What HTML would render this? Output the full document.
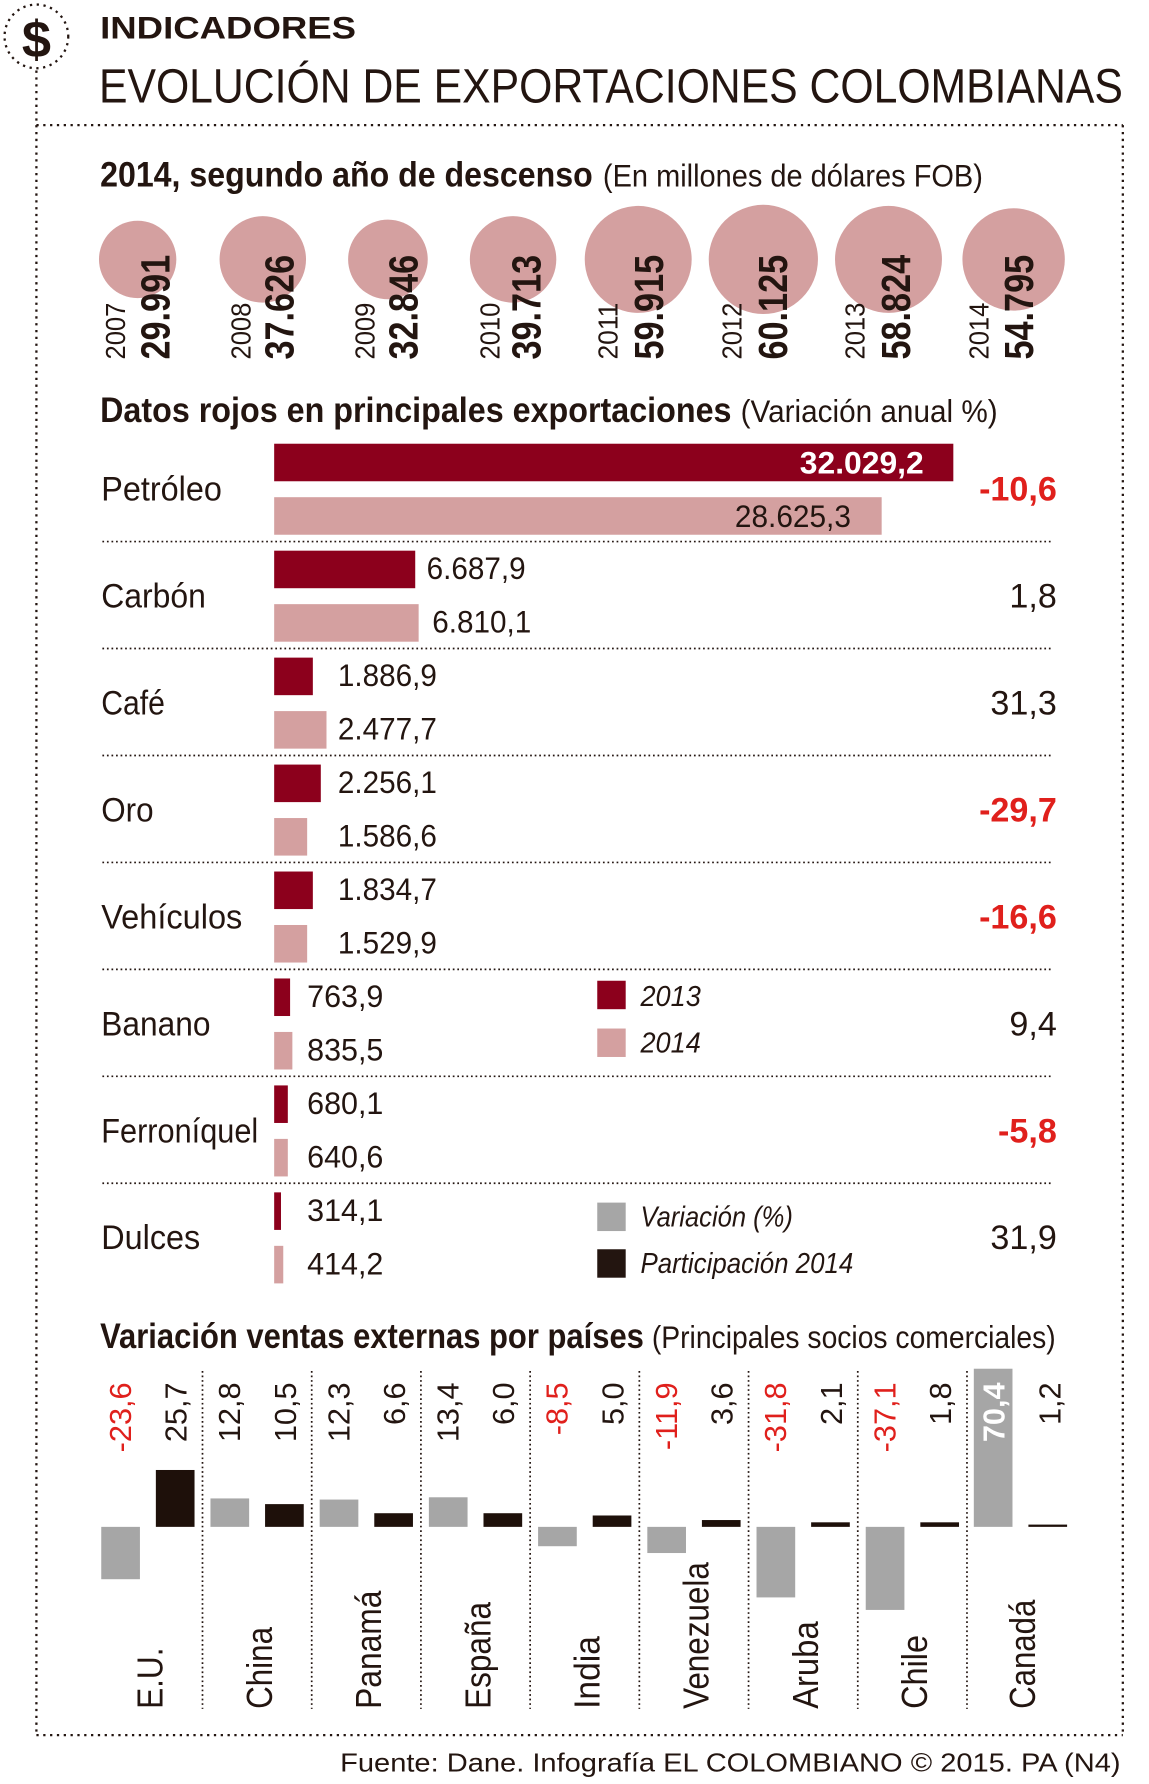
<!DOCTYPE html>
<html><head><meta charset="utf-8"><style>
html,body{margin:0;padding:0;background:#fff;}
svg{display:block;}
text{font-family:"Liberation Sans Narrow","Liberation Sans",sans-serif;fill:#231510;}
.b{font-weight:bold;}
.r{fill:#e0201c;}
</style></head><body>
<svg width="1149" height="1784" viewBox="0 0 1010 1568" preserveAspectRatio="none" xmlns="http://www.w3.org/2000/svg">
<rect width="1010" height="1568" fill="#fff"/>
<circle cx="32" cy="32" r="28" fill="none" stroke="#231510" stroke-width="2" stroke-dasharray="2,4"/>
<text x="32" y="50" text-anchor="middle" font-size="46" class="b" style="font-family:'Liberation Sans',sans-serif">$</text>
<text x="88" y="34" font-size="28" class="b" style="font-family:'Liberation Sans',sans-serif" textLength="225" lengthAdjust="spacingAndGlyphs">INDICADORES</text>
<text x="87" y="90" font-size="42" textLength="900" lengthAdjust="spacingAndGlyphs" style="font-family:'Liberation Sans',sans-serif">EVOLUCIÓN DE EXPORTACIONES COLOMBIANAS</text>
<g stroke="#231510" stroke-width="2" stroke-dasharray="2,4" fill="none">
<line x1="32" y1="62" x2="32" y2="1525"/>
<line x1="32" y1="110" x2="987" y2="110"/>
<line x1="987" y1="110" x2="987" y2="1525"/>
<line x1="32" y1="1525" x2="987" y2="1525"/>
</g>
<text x="88" y="164" font-size="31" class="b" textLength="433" lengthAdjust="spacingAndGlyphs">2014, segundo año de descenso</text>
<text x="530" y="164" font-size="28" textLength="334" lengthAdjust="spacingAndGlyphs">(En millones de dólares FOB)</text>
<g fill="#d4a0a0">
<circle cx="121" cy="228" r="34"/><circle cx="231" cy="228" r="38"/><circle cx="341" cy="228" r="35"/><circle cx="451" cy="228" r="38"/>
<circle cx="561" cy="228" r="47"/><circle cx="671" cy="228" r="48"/><circle cx="781" cy="228" r="47"/><circle cx="891" cy="228" r="45"/>
</g>
<g font-size="24">
<text transform="translate(110,316) rotate(-90)" textLength="50" lengthAdjust="spacingAndGlyphs">2007</text>
<text transform="translate(220,316) rotate(-90)" textLength="50" lengthAdjust="spacingAndGlyphs">2008</text>
<text transform="translate(329,316) rotate(-90)" textLength="50" lengthAdjust="spacingAndGlyphs">2009</text>
<text transform="translate(439,316) rotate(-90)" textLength="50" lengthAdjust="spacingAndGlyphs">2010</text>
<text transform="translate(543,316) rotate(-90)" textLength="50" lengthAdjust="spacingAndGlyphs">2011</text>
<text transform="translate(652,316) rotate(-90)" textLength="50" lengthAdjust="spacingAndGlyphs">2012</text>
<text transform="translate(760,316) rotate(-90)" textLength="50" lengthAdjust="spacingAndGlyphs">2013</text>
<text transform="translate(869,316) rotate(-90)" textLength="50" lengthAdjust="spacingAndGlyphs">2014</text>
</g>
<g font-size="36" class="b" style="font-family:'Liberation Sans',sans-serif">
<text transform="translate(149,316) rotate(-90)" textLength="92" lengthAdjust="spacingAndGlyphs">29.991</text>
<text transform="translate(258,316) rotate(-90)" textLength="92" lengthAdjust="spacingAndGlyphs">37.626</text>
<text transform="translate(367,316) rotate(-90)" textLength="92" lengthAdjust="spacingAndGlyphs">32.846</text>
<text transform="translate(475,316) rotate(-90)" textLength="92" lengthAdjust="spacingAndGlyphs">39.713</text>
<text transform="translate(583,316) rotate(-90)" textLength="92" lengthAdjust="spacingAndGlyphs">59.915</text>
<text transform="translate(692,316) rotate(-90)" textLength="92" lengthAdjust="spacingAndGlyphs">60.125</text>
<text transform="translate(800,316) rotate(-90)" textLength="92" lengthAdjust="spacingAndGlyphs">58.824</text>
<text transform="translate(908,316) rotate(-90)" textLength="92" lengthAdjust="spacingAndGlyphs">54.795</text>
</g>
<text x="88" y="371" font-size="31" class="b" textLength="555" lengthAdjust="spacingAndGlyphs">Datos rojos en principales exportaciones</text>
<text x="651" y="371" font-size="28" textLength="226" lengthAdjust="spacingAndGlyphs">(Variación anual %)</text>
<g stroke="#231510" stroke-width="1.5" stroke-dasharray="1.5,2.5">
<line x1="90" y1="476" x2="926" y2="476"/><line x1="90" y1="570" x2="926" y2="570"/>
<line x1="90" y1="664" x2="926" y2="664"/><line x1="90" y1="758" x2="926" y2="758"/>
<line x1="90" y1="852" x2="926" y2="852"/><line x1="90" y1="946" x2="926" y2="946"/>
<line x1="90" y1="1040" x2="926" y2="1040"/>
</g>
<g fill="#8c001c">
<rect x="241" y="390" width="597" height="33"/><rect x="241" y="484" width="124" height="33"/>
<rect x="241" y="578" width="34" height="33"/><rect x="241" y="672" width="41" height="33"/>
<rect x="241" y="766" width="34" height="33"/><rect x="241" y="860" width="14" height="33"/>
<rect x="241" y="954" width="12" height="33"/><rect x="241" y="1048" width="6" height="33"/>
</g>
<g fill="#d4a0a0">
<rect x="241" y="437" width="534" height="33"/><rect x="241" y="531" width="127" height="33"/>
<rect x="241" y="625" width="46" height="33"/><rect x="241" y="719" width="29" height="33"/>
<rect x="241" y="813" width="29" height="33"/><rect x="241" y="907" width="16" height="33"/>
<rect x="241" y="1001" width="12" height="33"/><rect x="241" y="1095" width="8" height="33"/>
</g>
<g font-size="30">
<text x="89" y="440" textLength="106" lengthAdjust="spacingAndGlyphs">Petróleo</text>
<text x="89" y="534" textLength="92" lengthAdjust="spacingAndGlyphs">Carbón</text>
<text x="89" y="628" textLength="56" lengthAdjust="spacingAndGlyphs">Café</text>
<text x="89" y="722" textLength="46" lengthAdjust="spacingAndGlyphs">Oro</text>
<text x="89" y="816" textLength="124" lengthAdjust="spacingAndGlyphs">Vehículos</text>
<text x="89" y="910" textLength="96" lengthAdjust="spacingAndGlyphs">Banano</text>
<text x="89" y="1004" textLength="138" lengthAdjust="spacingAndGlyphs">Ferroníquel</text>
<text x="89" y="1098" textLength="87" lengthAdjust="spacingAndGlyphs">Dulces</text>
</g>
<text x="812" y="416" font-size="28" class="b" text-anchor="end" style="fill:#fff">32.029,2</text>
<g font-size="28">
<text x="646" y="463" textLength="102" lengthAdjust="spacingAndGlyphs">28.625,3</text>
<text x="375" y="509" textLength="87" lengthAdjust="spacingAndGlyphs">6.687,9</text><text x="380" y="556" textLength="87" lengthAdjust="spacingAndGlyphs">6.810,1</text>
<text x="297" y="603" textLength="87" lengthAdjust="spacingAndGlyphs">1.886,9</text><text x="297" y="650" textLength="87" lengthAdjust="spacingAndGlyphs">2.477,7</text>
<text x="297" y="697" textLength="87" lengthAdjust="spacingAndGlyphs">2.256,1</text><text x="297" y="744" textLength="87" lengthAdjust="spacingAndGlyphs">1.586,6</text>
<text x="297" y="791" textLength="87" lengthAdjust="spacingAndGlyphs">1.834,7</text><text x="297" y="838" textLength="87" lengthAdjust="spacingAndGlyphs">1.529,9</text>
<text x="270" y="885" textLength="67" lengthAdjust="spacingAndGlyphs">763,9</text><text x="270" y="932" textLength="67" lengthAdjust="spacingAndGlyphs">835,5</text>
<text x="270" y="979" textLength="67" lengthAdjust="spacingAndGlyphs">680,1</text><text x="270" y="1026" textLength="67" lengthAdjust="spacingAndGlyphs">640,6</text>
<text x="270" y="1073" textLength="67" lengthAdjust="spacingAndGlyphs">314,1</text><text x="270" y="1120" textLength="67" lengthAdjust="spacingAndGlyphs">414,2</text>
</g>
<g font-size="30" text-anchor="end">
<text x="929" y="440" class="b r">-10,6</text>
<text x="929" y="534">1,8</text>
<text x="929" y="628">31,3</text>
<text x="929" y="722" class="b r">-29,7</text>
<text x="929" y="816" class="b r">-16,6</text>
<text x="929" y="910">9,4</text>
<text x="929" y="1004" class="b r">-5,8</text>
<text x="929" y="1098">31,9</text>
</g>
<rect x="525" y="862" width="25" height="25" fill="#8c001c"/>
<rect x="525" y="904" width="25" height="25" fill="#d4a0a0"/>
<rect x="525" y="1057" width="25" height="25" fill="#a6a6a6"/>
<rect x="525" y="1098" width="25" height="25" fill="#231510"/>
<g font-size="25" font-style="italic">
<text x="563" y="884" textLength="53" lengthAdjust="spacingAndGlyphs">2013</text><text x="563" y="925" textLength="53" lengthAdjust="spacingAndGlyphs">2014</text>
<text x="563" y="1078" textLength="134" lengthAdjust="spacingAndGlyphs">Variación (%)</text><text x="563" y="1119" textLength="187" lengthAdjust="spacingAndGlyphs">Participación 2014</text>
</g>
<text x="88" y="1185" font-size="31" class="b" textLength="478" lengthAdjust="spacingAndGlyphs">Variación ventas externas por países</text>
<text x="573" y="1185" font-size="28" textLength="355" lengthAdjust="spacingAndGlyphs">(Principales socios comerciales)</text>
<g stroke="#231510" stroke-width="1.5" stroke-dasharray="1.5,2.5">
<line x1="178" y1="1205" x2="178" y2="1502"/><line x1="274" y1="1205" x2="274" y2="1502"/>
<line x1="370" y1="1205" x2="370" y2="1502"/><line x1="466" y1="1205" x2="466" y2="1502"/>
<line x1="562" y1="1205" x2="562" y2="1502"/><line x1="658" y1="1205" x2="658" y2="1502"/>
<line x1="754" y1="1205" x2="754" y2="1502"/><line x1="850" y1="1205" x2="850" y2="1502"/>
</g>
<g fill="#a6a6a6">
<rect x="89" y="1342" width="34" height="46"/>
<rect x="185" y="1317" width="34" height="25"/>
<rect x="281" y="1318" width="34" height="24"/>
<rect x="377" y="1316" width="34" height="26"/>
<rect x="473" y="1342" width="34" height="17"/>
<rect x="569" y="1342" width="34" height="23"/>
<rect x="665" y="1342" width="34" height="62"/>
<rect x="761" y="1342" width="34" height="73"/>
<rect x="856" y="1203" width="34" height="139"/>
</g>
<g fill="#1e100a">
<rect x="137" y="1292" width="34" height="50"/>
<rect x="233" y="1322" width="34" height="20"/>
<rect x="329" y="1330" width="34" height="12"/>
<rect x="425" y="1330" width="34" height="12"/>
<rect x="521" y="1332" width="34" height="10"/>
<rect x="617" y="1336" width="34" height="6"/>
<rect x="713" y="1338" width="34" height="4"/>
<rect x="809" y="1338" width="34" height="4"/>
<rect x="904" y="1340" width="34" height="2"/>
</g>
<g font-size="27" text-anchor="end">
<text transform="translate(115,1215) rotate(-90)" class="r">-23,6</text>
<text transform="translate(164,1215) rotate(-90)">25,7</text>
<text transform="translate(211,1215) rotate(-90)">12,8</text>
<text transform="translate(260,1215) rotate(-90)">10,5</text>
<text transform="translate(307,1215) rotate(-90)">12,3</text>
<text transform="translate(356,1215) rotate(-90)">6,6</text>
<text transform="translate(403,1215) rotate(-90)">13,4</text>
<text transform="translate(452,1215) rotate(-90)">6,0</text>
<text transform="translate(499,1215) rotate(-90)" class="r">-8,5</text>
<text transform="translate(548,1215) rotate(-90)">5,0</text>
<text transform="translate(595,1215) rotate(-90)" class="r">-11,9</text>
<text transform="translate(644,1215) rotate(-90)">3,6</text>
<text transform="translate(691,1215) rotate(-90)" class="r">-31,8</text>
<text transform="translate(740,1215) rotate(-90)">2,1</text>
<text transform="translate(787,1215) rotate(-90)" class="r">-37,1</text>
<text transform="translate(836,1215) rotate(-90)">1,8</text>
<text transform="translate(883,1215) rotate(-90)" class="b" style="fill:#fff">70,4</text>
<text transform="translate(932,1215) rotate(-90)">1,2</text>
</g>
<g font-size="32">
<text transform="translate(143,1502) rotate(-90)" textLength="54" lengthAdjust="spacingAndGlyphs">E.U.</text>
<text transform="translate(239,1502) rotate(-90)" textLength="72" lengthAdjust="spacingAndGlyphs">China</text>
<text transform="translate(335,1502) rotate(-90)" textLength="104" lengthAdjust="spacingAndGlyphs">Panamá</text>
<text transform="translate(431,1502) rotate(-90)" textLength="94" lengthAdjust="spacingAndGlyphs">España</text>
<text transform="translate(527,1502) rotate(-90)" textLength="64" lengthAdjust="spacingAndGlyphs">India</text>
<text transform="translate(623,1502) rotate(-90)" textLength="129" lengthAdjust="spacingAndGlyphs">Venezuela</text>
<text transform="translate(719,1502) rotate(-90)" textLength="77" lengthAdjust="spacingAndGlyphs">Aruba</text>
<text transform="translate(815,1502) rotate(-90)" textLength="65" lengthAdjust="spacingAndGlyphs">Chile</text>
<text transform="translate(910,1502) rotate(-90)" textLength="96" lengthAdjust="spacingAndGlyphs">Canadá</text>
</g>
<text x="985" y="1557" font-size="23" text-anchor="end" textLength="686" lengthAdjust="spacingAndGlyphs" style="font-family:'Liberation Sans',sans-serif">Fuente: Dane. Infografía EL COLOMBIANO © 2015. PA (N4)</text>
</svg>
</body></html>
